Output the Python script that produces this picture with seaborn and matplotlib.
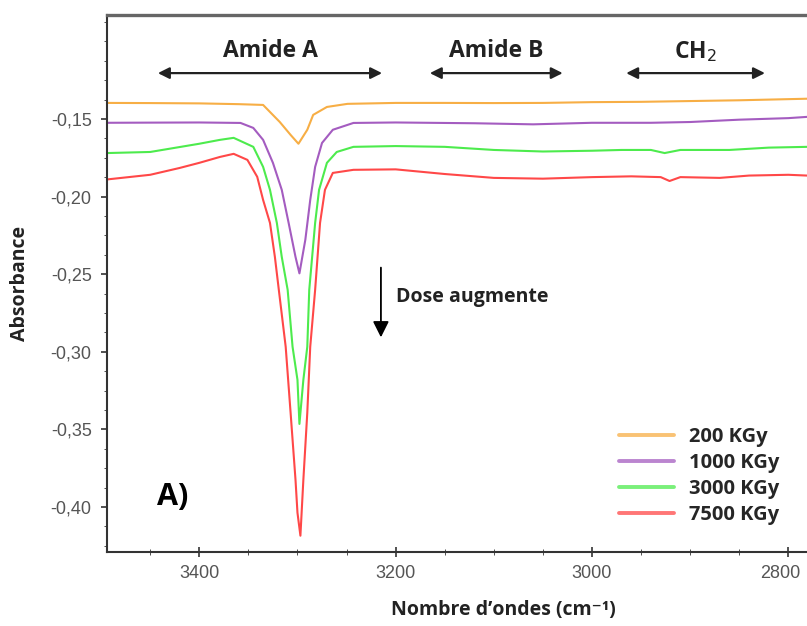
import matplotlib
matplotlib.use("Agg")
import matplotlib.pyplot as plt
import matplotlib.transforms as mtransforms
import seaborn as sns
import pandas as pd
from matplotlib.ticker import MultipleLocator, AutoMinorLocator, FuncFormatter

# Spectres FTIR
wn_200 = [3494, 3450, 3400, 3360, 3335, 3318, 3307, 3299, 3290, 3284, 3270, 3249,
          3200, 3150, 3100, 3050, 3000, 2950, 2900, 2850, 2781]
ab_200 = [-0.1397, -0.1398, -0.1400, -0.1405, -0.1410, -0.1520, -0.1603, -0.1660, -0.1570,
          -0.1474, -0.1423, -0.1403, -0.1397, -0.1397, -0.1398, -0.1397, -0.1392,
          -0.1390, -0.1385, -0.1380, -0.1370]

wn_1000 = [3494, 3450, 3400, 3358, 3345, 3335, 3325, 3316, 3309, 3302, 3298, 3292, 3287,
           3282, 3275, 3264, 3243, 3200, 3120, 3060, 3000, 2940, 2900, 2850, 2800, 2781]
ab_1000 = [-0.1525, -0.1524, -0.1523, -0.1526, -0.1558, -0.1635, -0.1783, -0.1957, -0.2170,
           -0.2389, -0.2495, -0.2279, -0.2022, -0.1809, -0.1655, -0.1570, -0.1526, -0.1523,
           -0.1528, -0.1535, -0.1525, -0.1525, -0.1520, -0.1505, -0.1495, -0.1487]

wn_3000 = [3494, 3450, 3400, 3379, 3365, 3345, 3335, 3328, 3321, 3316, 3310, 3305, 3300,
           3298, 3294, 3290, 3288, 3282, 3278, 3270, 3260, 3243, 3200, 3150, 3100, 3050,
           3000, 2970, 2940, 2926, 2910, 2860, 2820, 2781]
ab_3000 = [-0.1720, -0.1713, -0.1660, -0.1635, -0.1622, -0.1680, -0.1809, -0.1957, -0.2170,
           -0.2389, -0.2601, -0.2968, -0.3181, -0.3465, -0.3181, -0.2968, -0.2601, -0.2170,
           -0.1957, -0.1783, -0.1713, -0.1680, -0.1675, -0.1680, -0.1700, -0.1710, -0.1705,
           -0.1700, -0.1700, -0.1720, -0.1700, -0.1700, -0.1685, -0.1680]

wn_7500 = [3494, 3450, 3420, 3400, 3379, 3365, 3351, 3341, 3335, 3328, 3323, 3319, 3312,
           3307, 3302, 3300, 3297, 3294, 3290, 3287, 3282, 3277, 3272, 3264, 3243, 3200,
           3150, 3100, 3050, 3000, 2960, 2930, 2921, 2910, 2870, 2840, 2800, 2781]
ab_7500 = [-0.1890, -0.1860, -0.1816, -0.1783, -0.1745, -0.1725, -0.1764, -0.1873, -0.2022,
           -0.2170, -0.2389, -0.2601, -0.2968, -0.3393, -0.3825, -0.4037, -0.4185, -0.3825,
           -0.3393, -0.2968, -0.2601, -0.2170, -0.1957, -0.1848, -0.1828, -0.1825, -0.1855,
           -0.1880, -0.1885, -0.1875, -0.1870, -0.1875, -0.1900, -0.1875, -0.1880, -0.1865,
           -0.1860, -0.1865]

doses = ["200 KGy", "1000 KGy", "3000 KGy", "7500 KGy"]
colors = ["#F7AE45", "#A45CC0", "#4DEB4D", "#FF4848"]

frames = []
for d, w, a in zip(doses, [wn_200, wn_1000, wn_3000, wn_7500],
                   [ab_200, ab_1000, ab_3000, ab_7500]):
    frames.append(pd.DataFrame({"wn": w, "abs": a, "dose": d}))
df = pd.concat(frames, ignore_index=True)

sns.set_style("ticks")
plt.rcParams["font.family"] = ["Liberation Sans", "DejaVu Sans"]

fig = plt.figure(figsize=(8.07, 6.26), dpi=100)
ax = fig.add_axes([0.1326, 0.1182, 0.8674, 0.858])

sns.lineplot(data=df, x="wn", y="abs", hue="dose", palette=dict(zip(doses, colors)),
             hue_order=doses, sort=False, estimator=None, linewidth=1.5, ax=ax)

ax.set_xlim(3494, 2781)
ax.set_ylim(-0.429, -0.083)

ax.xaxis.set_major_locator(MultipleLocator(200))
ax.xaxis.set_minor_locator(AutoMinorLocator(4))
ax.set_yticks([-0.15, -0.20, -0.25, -0.30, -0.35, -0.40])
ax.yaxis.set_minor_locator(AutoMinorLocator(4))
ax.yaxis.set_major_formatter(FuncFormatter(lambda v, p: f"{v:.2f}".replace(".", ",")))
ax.tick_params(axis="both", which="major", labelsize=13, labelcolor="#555555",
               color="#333333", width=1.2)
ax.tick_params(axis="x", which="major", direction="inout", length=7, pad=6)
ax.tick_params(axis="x", which="minor", direction="inout", length=4, color="#333333")
ax.tick_params(axis="y", which="major", direction="out", length=4, pad=7)
ax.tick_params(axis="y", which="minor", direction="out", length=2.5, color="#333333")

for s in ["left", "bottom"]:
    ax.spines[s].set_color("#333333")
    ax.spines[s].set_linewidth(1.5)
ax.spines["top"].set_color("#666666")
ax.spines["top"].set_linewidth(2.4)
ax.spines["right"].set_visible(False)

lab = dict(family=["Open Sans", "DejaVu Sans"], fontweight="bold", color="#222222")
ax.set_xlabel("Nombre d’ondes (cm⁻¹)", fontsize=14, **lab)
ax.xaxis.set_label_coords(0.566, -0.09)
ax.set_ylabel("Absorbance", fontsize=14, **lab)
ax.yaxis.set_label_coords(-0.11, 0.5)

# Régions
arrow = dict(arrowstyle="<|-|>", color="#222222", lw=1.6, mutation_scale=17)
regions = [("Amide A", 3445, 3211), ("Amide B", 3168, 3027), ("CH$_2$", 2968, 2821)]
for name, x0, x1 in regions:
    ax.annotate("", xy=(x1, -0.1205), xytext=(x0, -0.1205), arrowprops=arrow)
    ax.text((x0 + x1) / 2, -0.1065, name, ha="center", va="center", fontsize=16.5, **lab)

ax.annotate("", xy=(3215, -0.2925), xytext=(3215, -0.2440),
            arrowprops=dict(arrowstyle="-|>", color="black", lw=1.3, mutation_scale=24))
ax.text(3200, -0.2650, "Dose augmente", ha="left", va="center", fontsize=14, **lab)
ax.text(3443, -0.3934, "A)", ha="left", va="center", fontsize=22,
        family=["Open Sans", "DejaVu Sans"], fontweight="bold", color="black")

leg = ax.legend(loc="lower right", bbox_to_anchor=(0.972, 0.035), frameon=False,
                borderaxespad=0, handlelength=2.7, handletextpad=0.75, labelspacing=0.3,
                prop={"family": "Open Sans", "weight": "bold", "size": 14.5})
for line in leg.get_lines():
    line.set_linewidth(2.8)
    line.set_alpha(0.75)

# le dernier libellé (2800) est décalé vers la gauche, comme sur l'original
fig.canvas.draw()
shift = mtransforms.ScaledTranslation(-6 / 72, 0, fig.dpi_scale_trans)
for lbl in ax.get_xticklabels():
    if lbl.get_text() == "2800":
        lbl.set_transform(lbl.get_transform() + shift)

fig.savefig("out.png", dpi=100)
